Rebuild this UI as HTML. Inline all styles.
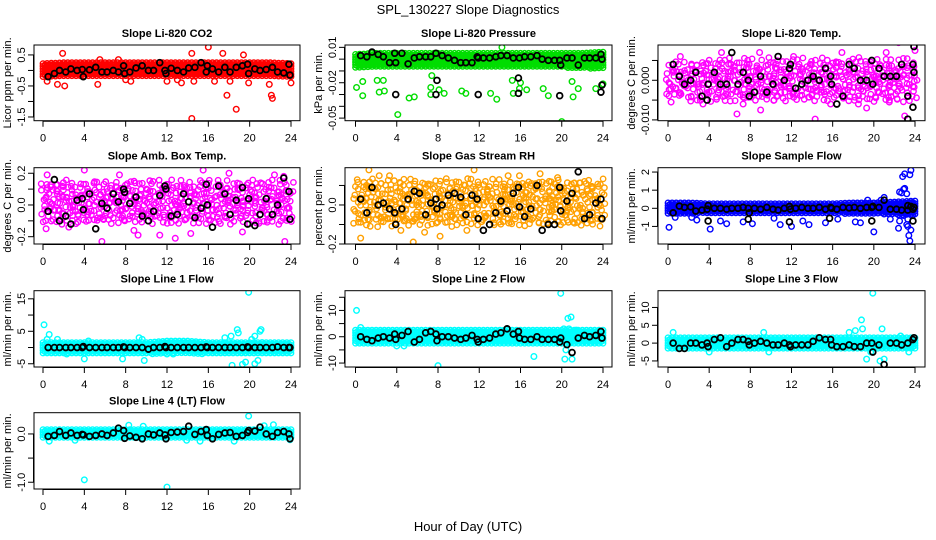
<!DOCTYPE html>
<html><head><meta charset="utf-8"><style>
body{margin:0;background:#fff}
svg{display:block;font-family:"Liberation Sans",sans-serif}
</style></head><body>
<svg id="chart" width="936" height="540" viewBox="0 0 936 540" xmlns="http://www.w3.org/2000/svg">
<text x="468" y="14" font-size="13" text-anchor="middle">SPL_130227  Slope Diagnostics</text>
<text x="468" y="531" font-size="13" text-anchor="middle">Hour of Day (UTC)</text>
</svg>
<script>
const blackX=[0.5,1.1,1.6,2.2,2.7,3.3,3.8,3.9,4.5,5.1,5.7,6.2,6.8,7.3,7.8,7.9,8.4,9.0,9.6,10.2,10.7,11.3,11.8,11.9,12.4,13.0,13.6,14.1,14.7,15.3,15.8,15.9,16.4,17.0,17.6,18.1,18.7,19.3,19.8,19.9,20.5,21.0,21.6,22.2,22.7,23.3,23.8,23.9];
const bandX=[0,2,4,6,8,10,12,14,16,18,20,22,24];
const xTicks=[0,4,8,12,16,20,24];

const co2Black=[-0.2,-0.1,0,-0.05,0.05,0,0.03,-0.2,0.02,0.1,-0.05,-0.05,0,-0.05,0.15,-0.1,-0.05,0.08,0.15,0,0,0.25,0,-0.1,0.07,0,-0.05,0.08,0.1,0.25,-0.05,0.15,0.05,-0.05,0.1,-0.05,0.1,0.15,0.2,-0.1,0.05,0,0.03,0.1,-0.05,-0.08,0.2,-0.15];
const co2Out=[[0.4,-0.35],[1.4,-0.45],[1.9,0.55],[2.1,-0.5],[5.3,-0.45],[5.5,0.35],[8,-0.3],[8.5,-0.35],[12,-0.35],[13.4,-0.4],[13,-0.3],[14.4,0.55],[14.6,-0.35],[14.4,-1.55],[16,0.75],[17.4,0.55],[17.8,-0.8],[18.7,-1.25],[19.4,0.5],[19.9,-0.4],[22.1,-0.8],[22.2,-0.9],[21.9,-0.45],[24,-0.4],[18.1,-0.35],[16.6,-0.35],[7.3,0.35]];
const co2BlackOut=[];
const co2Lo=[-0.2,-0.2,-0.2,-0.2,-0.2,-0.2,-0.2,-0.2,-0.2,-0.2,-0.2,-0.2,-0.2];
const co2Hi=[0.22,0.25,0.25,0.25,0.25,0.25,0.25,0.25,0.25,0.25,0.25,0.25,0.22];

const prBlack=[0.003,0.002,0.006,0.004,0.002,-0.003,0.005,-0.003,0.005,-0.004,0.001,0.002,0.002,0.002,0.005,-0.018,0.003,0.001,-0.001,-0.003,-0.003,-0.003,0.002,0.001,0.001,0.001,0.002,0.003,0.003,0.001,-0.016,0.001,0.002,0.002,0.003,0.000,-0.001,-0.001,-0.001,-0.005,0.001,0.001,-0.005,0.001,0.001,0.001,0.004,0.000];
const prBlackOut=[[3.9,-0.030],[7.8,-0.030],[11.9,-0.030],[15.8,-0.029],[19.8,-0.031],[23.8,-0.028],[23.9,-0.022]];
const prOut=[[0.1,-0.024],[0.7,-0.031],[0.7,-0.019],[2.3,-0.028],[2.8,-0.027],[4.1,-0.047],[5.2,-0.033],[5.7,-0.032],[7.3,-0.024],[7.3,-0.03],[8.1,-0.026],[8.6,-0.029],[10.3,-0.027],[10.7,-0.029],[12,-0.055],[13.1,-0.029],[13.7,-0.034],[14.2,0.01],[15.3,-0.029],[15.9,-0.025],[16,-0.02],[16.6,-0.026],[18.2,-0.025],[18.7,-0.031],[20,-0.053],[21.1,-0.032],[21.6,-0.025],[23.3,-0.025],[24,-0.021],[2.1,-0.018],[2.7,-0.018],[15.2,-0.018],[21,-0.019],[7.4,-0.014]];
const prLo=[-0.008,-0.007,-0.007,-0.007,-0.007,-0.007,-0.007,-0.007,-0.007,-0.007,-0.007,-0.008,-0.008];
const prHi=[0.004,0.005,0.005,0.005,0.005,0.005,0.005,0.005,0.005,0.005,0.005,0.005,0.006];

const tpBlack=[0.004,0.001,-0.001,0,0.002,-0.004,-0.005,-0.001,0.002,-0.001,-0.001,0.007,-0.001,0.002,0,-0.004,-0.003,0.001,-0.003,-0.001,0.006,0,0.003,0.004,-0.002,-0.001,0,0.001,0,0.003,0.001,-0.001,-0.006,-0.004,0.004,0.003,0,0,0.005,-0.001,0.003,0.001,0.001,0.001,0.004,-0.004,0.004,0.002];
const tpBlackOut=[[23.9,0.0085],[23.8,-0.0068],[23.3,-0.0098]];
const tpOut=[[1.2,0.006],[5.2,0.007],[6.7,-0.0085],[8.9,0.007],[9.0,-0.0075],[14.3,-0.0098],[16.9,0.007],[21.2,0.007],[22.4,0.0095],[23.0,-0.009],[24,0.0075],[0.3,-0.0055],[3.4,-0.006],[7.3,-0.006],[15.8,-0.006],[19.3,-0.007],[21.5,-0.0055],[10.3,-0.005],[18.5,-0.006],[12.2,0.006]];
const tpLo=[-0.005,-0.005,-0.005,-0.005,-0.005,-0.005,-0.005,-0.005,-0.005,-0.005,-0.005,-0.005,-0.005];
const tpHi=[0.004,0.004,0.005,0.005,0.005,0.005,0.005,0.005,0.005,0.005,0.005,0.005,0.005];

const abBlack=[-0.04,0.16,-0.1,-0.07,-0.12,0.03,0.04,-0.03,0.07,-0.15,0.01,-0.02,0.07,0.02,0.1,0.08,0.01,0.05,-0.07,-0.1,-0.04,0.06,0.12,0.1,-0.07,-0.06,0.07,0.02,-0.08,-0.02,0.13,0,-0.14,0.12,0.07,-0.06,0.03,0.11,-0.12,0.04,-0.13,-0.06,0.04,-0.06,0.0,0.17,0.085,-0.09];
const abBlackOut=[];
const abOut=[[0.3,-0.15],[0.4,0.19],[1.9,0.05],[4,0.22],[5.7,-0.23],[7.4,0.19],[9.2,-0.19],[11.3,-0.19],[12.8,-0.21],[14.3,-0.18],[15.5,0.22],[18,0.2],[19.3,-0.17],[22.4,0.19],[23.4,-0.23],[23.3,0.18],[8.8,-0.16],[2.5,-0.14]];
const abLo=[-0.12,-0.12,-0.12,-0.12,-0.12,-0.12,-0.12,-0.12,-0.12,-0.12,-0.12,-0.12,-0.12];
const abHi=[0.14,0.14,0.14,0.14,0.14,0.14,0.14,0.14,0.14,0.14,0.14,0.14,0.14];

const rhBlack=[0.03,-0.04,0.09,0,0.01,-0.02,-0.04,-0.1,-0.02,0.03,0.07,0.06,-0.05,0.01,0.03,-0.02,0,0.05,0.06,0.04,-0.05,0.05,0.03,-0.07,-0.13,-0.1,-0.04,0.02,-0.03,0.06,0.09,-0.01,-0.06,-0.02,0.1,-0.13,-0.1,-0.1,0.09,-0.03,0.02,0.06,0.17,-0.07,-0.05,0.01,0.03,-0.07];
const rhBlackOut=[];
const rhOut=[[1.3,0.18],[0.5,-0.17],[2.3,0.15],[3.3,0.15],[4.4,-0.13],[5.6,-0.19],[6.7,-0.14],[8.2,-0.16],[10.8,-0.13],[11.5,0.18],[14.8,0.15],[15.9,0.15],[17.9,0.16],[19.6,0.14]];
const rhLo=[-0.1,-0.1,-0.1,-0.1,-0.1,-0.1,-0.1,-0.1,-0.1,-0.1,-0.1,-0.1,-0.1];
const rhHi=[0.12,0.12,0.12,0.12,0.12,0.12,0.12,0.12,0.12,0.12,0.12,0.12,0.12];

const sfBlack=[-0.25,0.12,0.05,0.08,-0.15,-0.1,-0.05,0.15,0,0,-0.05,0,0,0.05,0,-0.25,0,-0.05,0.05,-0.05,-0.1,0,0.1,-0.05,0,0.05,0,0,0.05,-0.05,0.05,0,-0.05,0.05,0.02,0.05,0,0.05,0.05,0.1,0.05,0.45,-0.05,-0.05,-0.1,0.15,-0.05,0.05];
const sfBlackOut=[[3.9,-0.7],[7.8,-0.6],[11.8,-0.75],[15.7,-0.55],[19.8,-0.7],[23.8,-0.7],[23.3,-0.1],[23.6,0.1]];
const sfOut=[[0.1,-1.05],[0.7,-0.5],[2.3,-0.5],[2.8,-0.65],[4.1,-1.15],[5.1,-0.7],[5.7,-0.85],[7.3,-0.75],[8.2,-0.85],[10.3,-0.55],[10.9,-0.9],[12,-1.0],[13.1,-0.7],[13.7,-0.9],[15.3,-0.8],[16.5,-0.6],[18.2,-0.75],[18.7,-0.8],[19.4,0.45],[20,-1.3],[20.7,0.45],[21,0.6],[21.6,-0.6],[22.4,-1.1],[22.5,-0.7],[22.5,0.9],[22.7,0.85],[22.8,1.75],[23.0,1.9],[23.0,1.1],[22.9,1.05],[23.2,0.8],[23.3,-0.6],[23.5,1.85],[23.6,2.1],[23.4,-1.5],[23.5,-1.8],[23.6,-1.2],[23.3,-1.0],[23.7,0.3],[22.9,-0.4],[23.2,-0.9]];
const sfLo=[-0.3,-0.3,-0.3,-0.3,-0.3,-0.3,-0.3,-0.3,-0.3,-0.3,-0.3,-0.35,-0.4];
const sfHi=[0.3,0.3,0.25,0.25,0.25,0.25,0.25,0.25,0.25,0.3,0.3,0.35,0.4];

const l1Black=[0,0,0,0,0,0,0,0.3,0,0,0,0,0,0,0.2,0,0,0,0,-0.5,0,0,0.3,0,0,0,0,0,0,0,0.2,0,0,0,0,0,0,0,0.2,0,0,0,0,0,0.2,0,0,0];
const l1BlackOut=[];
const l1Out=[[0.1,7],[0.6,4],[0.4,2.5],[1.4,2.5],[2.3,-2],[4,-3.5],[4.4,2],[7.7,-3.5],[9.3,3],[9.6,2.5],[9.8,-4],[12,-2],[12.6,-2],[17.6,3],[18.2,3.5],[18.3,-5.5],[18.8,5.5],[18.9,4.5],[19.3,-5.2],[19.6,-4.5],[19.9,17],[20.2,2.5],[20.5,3.5],[20.5,-5],[20.8,-4],[21,5],[21.1,5.5],[21.2,1.5]];
const l1Lo=[-2,-2,-2,-2,-2,-2,-2,-2,-2,-2,-2,-2,-2];
const l1Hi=[1.5,1.5,1.5,1.5,1.5,1.5,2,2,1.5,1.5,1.5,1.5,1.5];

const l2Black=[0,-1,-1.5,-0.5,0,-0.5,1,-1,0.5,2,-2,-1,1.5,2,1,-1.5,0,0,-0.5,-1,-0.5,0.5,-1,-2,-1,-0.5,1,1.5,3,1,2,-0.5,-1,-1,0,-1,-1,-1,-2,-0.5,-3,-6,-0.5,0.5,0,0.5,2,-0.5];
const l2BlackOut=[];
const l2Out=[[0.1,10],[0.5,3.5],[4,-3.5],[4.7,-3.5],[8,-11],[17.3,-7.5],[19.9,16.5],[20.2,3],[20.4,-5],[20.3,-8.5],[20.6,7],[20.9,7.5],[21,-8.5],[20.7,3],[21.4,2.5]];
const l2Lo=[-2.5,-2.5,-2.5,-2.5,-2.5,-2.5,-2.5,-2.5,-2.5,-2.5,-2.5,-2.5,-2.5];
const l2Hi=[2.5,2.5,2.5,2.5,2.5,2.5,2.5,2.5,2.5,2.5,2.5,2.5,2.5];

const l3Black=[0,-1.5,-1.5,0,0,-0.5,0,-1,1,1.5,-1,0,1,1,0.5,-0.5,0,0.5,0,-0.5,-0.5,0,-0.5,-1,-0.5,-0.5,-0.5,0.5,1.5,1,1,-0.5,-1,-1,-0.5,-1,-1,0,0,-2.5,-0.5,-6,0,0,-0.5,0,1,1.5];
const l3BlackOut=[];
const l3Out=[[0.5,3],[4,-2.5],[9.3,3],[9.8,-2.5],[17.6,3],[18.2,3.5],[18.8,6.5],[18.9,4],[19.3,-4.5],[19.7,-2.5],[19.9,14],[20.6,-5],[20.8,4],[21,-4.5],[23.4,-2.5],[22.6,2]];
const l3Lo=[-1.5,-1.5,-1.5,-1.5,-1.5,-1.5,-1.5,-1.5,-1.5,-1.5,-1.5,-1.5,-1.5];
const l3Hi=[1.5,1.5,1.5,1.5,1.5,1.5,1.5,1.5,1.5,1.5,1.5,1.5,1.5];

const l4Black=[-0.05,-0.03,0.05,-0.03,0.02,-0.03,-0.01,-0.02,-0.05,-0.03,0,-0.03,0.02,0.12,0.07,-0.09,-0.04,-0.07,-0.1,0,-0.02,0.02,-0.02,-0.1,0.03,0.04,0.05,0.16,-0.01,0.05,0.09,-0.03,-0.1,-0.01,0.02,0.03,-0.05,-0.03,0.03,0.07,0.06,0.14,0,-0.05,0.03,0.05,0,-0.1];
const l4BlackOut=[];
const l4Out=[[0.6,-0.15],[3.1,-0.13],[4,-0.95],[8.3,0.18],[9.7,0.16],[12,-1.1],[13.9,-0.13],[15.2,-0.15],[18.5,-0.15],[19.9,0.37],[21.4,0.17],[22.3,0.19],[23.9,-0.12]];
const l4Lo=[-0.08,-0.08,-0.08,-0.08,-0.08,-0.08,-0.08,-0.08,-0.08,-0.08,-0.08,-0.08,-0.08];
const l4Hi=[0.09,0.09,0.09,0.09,0.09,0.09,0.09,0.09,0.09,0.09,0.09,0.09,0.09];

// layout (not data)
const cols=[{l:34,r:300,x0:43,x24:291},{l:345,r:612,x0:355.5,x24:603},{l:658,r:925,x0:668,x24:915}];
const rows=[{t:45,b:120.7},{t:167.7,b:244},{t:290.7,b:367},{t:412.7,b:489}];
const panels=[
 {name:'co2',title:'Slope Li-820 CO2',ylab:'Licor ppm per min.',c:0,r:0,ylim:[-1.62,0.82],ticks:[0.5,0,-0.5,-1,-1.5],labels:['0.5','','-0.5','','-1.5'],col:'#ff0000',black:co2Black,bout:co2BlackOut,out:co2Out,lo:co2Lo,hi:co2Hi,dense:1},
 {name:'pressure',title:'Slope Li-820 Pressure',ylab:'kPa per min.',c:1,r:0,ylim:[-0.0522,0.012],ticks:[0.01,0,-0.01,-0.02,-0.03,-0.04,-0.05],labels:['0.01','','','-0.02','','','-0.05'],col:'#00dd00',black:prBlack,bout:prBlackOut,out:prOut,lo:prLo,hi:prHi,dense:1},
 {name:'temp',title:'Slope Li-820 Temp.',ylab:'degrees C per min.',c:2,r:0,ylim:[-0.0102,0.0089],ticks:[0.005,0,-0.005,-0.01],labels:['','0.000','','-0.010'],col:'#ff00ff',black:tpBlack,bout:tpBlackOut,out:tpOut,lo:tpLo,hi:tpHi,dense:0},
 {name:'amb-box-temp',title:'Slope Amb. Box Temp.',ylab:'degrees C per min.',c:0,r:1,ylim:[-0.246,0.235],ticks:[0.2,0.1,0,-0.1,-0.2],labels:['0.2','','0.0','','-0.2'],col:'#ff00ff',black:abBlack,bout:abBlackOut,out:abOut,lo:abLo,hi:abHi,dense:0},
 {name:'gas-stream-rh',title:'Slope Gas Stream RH',ylab:'percent per min.',c:1,r:1,ylim:[-0.2,0.191],ticks:[0.1,0,-0.1,-0.2],labels:['','0.0','','-0.2'],col:'#ffa000',black:rhBlack,bout:rhBlackOut,out:rhOut,lo:rhLo,hi:rhHi,dense:0},
 {name:'sample-flow',title:'Slope Sample Flow',ylab:'ml/min per min.',c:2,r:1,ylim:[-1.97,2.24],ticks:[2,1,0,-1],labels:['2','1','0','-1'],col:'#0000ff',black:sfBlack,bout:sfBlackOut,out:sfOut,lo:sfLo,hi:sfHi,dense:1},
 {name:'line1-flow',title:'Slope Line 1 Flow',ylab:'ml/min per min.',c:0,r:2,ylim:[-6,17.5],ticks:[15,10,5,0,-5],labels:['15','','5','','-5'],col:'#00ffff',black:l1Black,bout:l1BlackOut,out:l1Out,lo:l1Lo,hi:l1Hi,dense:1},
 {name:'line2-flow',title:'Slope Line 2 Flow',ylab:'ml/min per min.',c:1,r:2,ylim:[-11.5,17.5],ticks:[15,10,5,0,-5,-10],labels:['','10','','0','','-10'],col:'#00ffff',black:l2Black,bout:l2BlackOut,out:l2Out,lo:l2Lo,hi:l2Hi,dense:1},
 {name:'line3-flow',title:'Slope Line 3 Flow',ylab:'ml/min per min.',c:2,r:2,ylim:[-6.7,14.7],ticks:[10,5,0,-5],labels:['10','5','0','-5'],col:'#00ffff',black:l3Black,bout:l3BlackOut,out:l3Out,lo:l3Lo,hi:l3Hi,dense:1},
 {name:'line4-flow',title:'Slope Line 4 (LT) Flow',ylab:'ml/min per min.',c:0,r:3,ylim:[-1.14,0.44],ticks:[0,-0.5,-1],labels:['0.0','','-1.0'],col:'#00ffff',black:l4Black,bout:l4BlackOut,out:l4Out,lo:l4Lo,hi:l4Hi,dense:1}
];
const NS='http://www.w3.org/2000/svg';
const svg=document.getElementById('chart');
function mk(tag,attrs,parent){const e=document.createElementNS(NS,tag);for(const k in attrs)e.setAttribute(k,attrs[k]);parent.appendChild(e);return e;}
function interp(arr,x){const i=Math.min(11,Math.floor(x/2));const f=(x-bandX[i])/2;return arr[i]+(arr[i+1]-arr[i])*f;}
// cosmetic position scatter for the cloud texture (not data)
function jit(n){const s=Math.sin(n*12.9898+78.233)*43758.5453;return s-Math.floor(s)-0.5;}
panels.forEach((p,pi)=>{
 const C=cols[p.c],R=rows[p.r];
 const xs=h=>C.x0+(C.x24-C.x0)*h/24;
 const ys=v=>R.b-(v-p.ylim[0])/(p.ylim[1]-p.ylim[0])*(R.b-R.t);
 const g=mk('g',{},svg);
 
 
 const cp=mk('clipPath',{id:'cp-'+p.name},g);
 mk('rect',{x:C.l,y:R.t,width:C.r-C.l,height:R.b-R.t},cp);
 const pts=mk('g',{'clip-path':'url(#cp-'+p.name+')',fill:'none','stroke-width':1.4},g);
 
 
 const cloud=mk('g',{stroke:p.col},pts);
 
 
 const dx=p.dense?0.2:0.3, dy=p.dense?2.6:6.5;
 let k=0,n=pi*1000;
 for(let h=0;h<=24.001;h+=dx){
  const yTop=ys(interp(p.hi,h)), yBot=ys(interp(p.lo,h));
  const off=(k%2)*dy/2;
  for(let y=yTop+off;y<=yBot;y+=dy){
   n++;
   let cx=xs(h), cy=y;
   if(!p.dense){cx+=jit(n)*5;cy+=jit(n+0.37)*6;}
   mk('circle',{cx:cx.toFixed(1),cy:cy.toFixed(1),r:2.7},cloud);
  }
  k++;
 }
 const og=mk('g',{stroke:p.col},pts);
 
 
 p.out.forEach(d=>{const c=mk('circle',{cx:xs(d[0]),cy:ys(d[1]),r:2.8},og);});
 const bg=mk('g',{stroke:'#000','stroke-width':1.8},pts);
 
 
 p.black.forEach((v,i)=>{const c=mk('circle',{cx:xs(blackX[i]),cy:ys(v),r:2.9},bg);});
 p.bout.forEach(d=>{const c=mk('circle',{cx:xs(d[0]),cy:ys(d[1]),r:2.9},bg);});
 const box=mk('rect',{x:C.l,y:R.t,width:C.r-C.l,height:R.b-R.t,fill:'none',stroke:'#000','stroke-width':1},g);
 
 
 const xa=mk('g',{},g);
 
 
 mk('line',{x1:xs(0),x2:xs(24),y1:R.b+0.5,y2:R.b+0.5,stroke:'#000'},xa);
 xTicks.forEach(t=>{mk('line',{x1:xs(t),x2:xs(t),y1:R.b,y2:R.b+6,stroke:'#000'},xa);
  const tx=mk('text',{x:xs(t),y:R.b+21,'font-size':11,'text-anchor':'middle'},xa);tx.textContent=t;
  });
 const ya=mk('g',{},g);
 
 
 mk('line',{x1:C.l-0.5,x2:C.l-0.5,y1:ys(p.ticks[0]),y2:ys(p.ticks[p.ticks.length-1]),stroke:'#000'},ya);
 p.ticks.forEach((t,i)=>{const y=ys(t);mk('line',{x1:C.l-6,x2:C.l,y1:y,y2:y,stroke:'#000'},ya);
  if(p.labels[i]){const tx=mk('text',{x:C.l-9,y:y,'font-size':11,'text-anchor':'middle',transform:'rotate(-90 '+(C.l-9)+' '+y+')'},ya);tx.textContent=p.labels[i];
  }});
 const yl=mk('text',{x:C.l-23,y:(R.t+R.b)/2,'font-size':11,'text-anchor':'middle',transform:'rotate(-90 '+(C.l-23)+' '+((R.t+R.b)/2)+')'},g);
 yl.textContent=p.ylab;
 
 
 const ti=mk('text',{x:(C.l+C.r)/2,y:R.t-8,'font-size':11,'font-weight':'bold','text-anchor':'middle'},g);
 ti.textContent=p.title;
 
 
});
</script>
</body></html>
